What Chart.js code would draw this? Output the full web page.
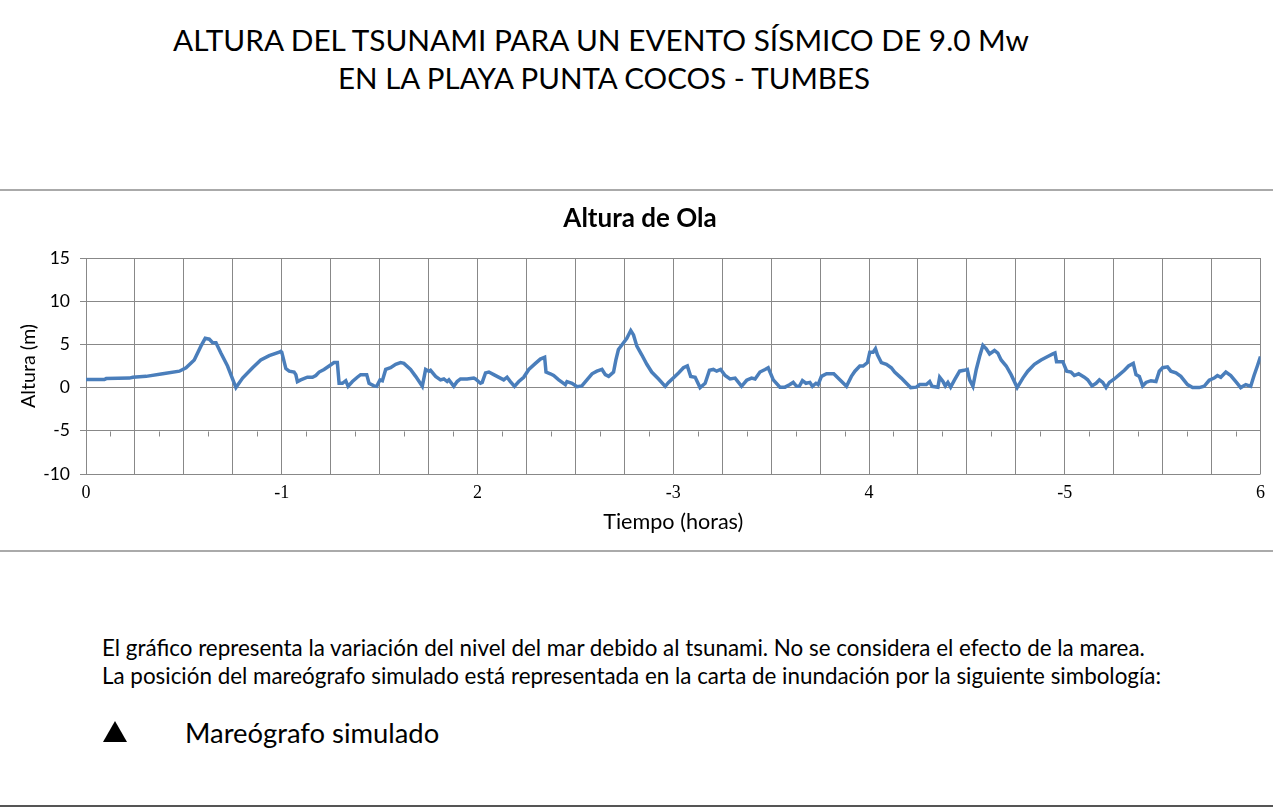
<!DOCTYPE html>
<html>
<head>
<meta charset="utf-8">
<script src="https://cdn.jsdelivr.net/npm/chart.js@4"></script>
<style>
  body { margin: 0; width: 1273px; height: 809px; background: #fff; position: relative; overflow: hidden; font-family: Lato, "Open Sans", sans-serif; color: #000; }
  .txt { position: absolute; white-space: nowrap; line-height: 1; }
  .regla { position: absolute; left: 0; width: 1273px; }
  #caja { position: absolute; left: 0; top: 195px; width: 1273px; height: 350px; }
  .triangulo { position: absolute; left: 103px; top: 721px; width: 0; height: 0; border-left: 12px solid transparent; border-right: 12px solid transparent; border-bottom: 21px solid #000; }
</style>
</head>
<body>
<div class="txt" style="left:0;width:1202px;text-align:center;top:25px;font-size:29.8px;">ALTURA DEL TSUNAMI PARA UN EVENTO SÍSMICO DE 9.0 Mw</div>
<div class="txt" style="left:0;width:1208px;text-align:center;top:63px;font-size:29.5px;">EN LA PLAYA PUNTA COCOS - TUMBES</div>
<div class="regla" style="top:189px;height:2px;background:#aaa;"></div>

<div id="caja"><canvas id="grafico" width="1273" height="350"></canvas></div>

<div class="regla" style="top:550px;height:2px;background:#aaa;"></div>
<div class="txt" style="left:102px;top:637px;font-size:22.4px;">El gráfico representa la variación del nivel del mar debido al tsunami. No se considera el efecto de la marea.</div>
<div class="txt" style="left:102px;top:665px;font-size:22.4px;">La posición del mareógrafo simulado está representada en la carta de inundación por la siguiente simbología:</div>
<div class="triangulo"></div>
<div class="txt" style="left:185px;top:719px;font-size:27.4px;">Mareógrafo simulado</div>
<div class="regla" style="top:805px;height:2px;background:#555;"></div>

<script>
// tiempo en horas, altura en metros
const tiempo = [
  0.000, 0.094, 0.103, 0.222, 0.239, 0.307, 0.392, 0.477, 0.511, 0.553, 0.587, 0.609, 0.630, 0.647, 0.664, 0.689, 0.723, 0.766, 0.800, 0.851, 0.893, 0.936, 0.987,
  0.995, 1.000, 1.021, 1.038, 1.063, 1.072, 1.080, 1.097, 1.131, 1.157, 1.174, 1.191, 1.216, 1.242, 1.267, 1.284, 1.293, 1.310, 1.327, 1.339, 1.361, 1.386, 1.403,
  1.434, 1.446, 1.471, 1.485, 1.502, 1.514, 1.531, 1.556, 1.582, 1.607, 1.624, 1.658, 1.684, 1.718, 1.735, 1.752, 1.760, 1.786, 1.811, 1.828, 1.845, 1.854, 1.879,
  1.896, 1.913, 1.947, 1.981,
  1.990, 2.015, 2.024, 2.041, 2.058, 2.083, 2.117, 2.134, 2.151, 2.168, 2.189, 2.211, 2.236, 2.262, 2.296, 2.321, 2.343, 2.350, 2.372, 2.389, 2.415, 2.449, 2.457,
  2.483, 2.508, 2.533, 2.559, 2.585, 2.610, 2.636, 2.653, 2.670, 2.695, 2.707, 2.720, 2.746, 2.763, 2.783, 2.797, 2.814, 2.839, 2.865, 2.890, 2.925, 2.959, 2.976,
  3.027, 3.052, 3.072, 3.089, 3.112, 3.137, 3.163, 3.185, 3.205, 3.222, 3.242, 3.265, 3.290, 3.316, 3.349, 3.375, 3.400, 3.418, 3.443, 3.469, 3.485, 3.511, 3.545,
  3.571, 3.596, 3.613, 3.630, 3.644, 3.660, 3.678, 3.698, 3.711, 3.729, 3.740, 3.757, 3.783, 3.820, 3.851, 3.885, 3.910, 3.928, 3.953, 3.970,
  3.992, 4.004, 4.021, 4.033, 4.043, 4.063, 4.089, 4.114, 4.131, 4.165, 4.191, 4.213, 4.242, 4.259, 4.293, 4.310, 4.322, 4.352, 4.361, 4.378, 4.390, 4.403, 4.417,
  4.437, 4.463, 4.485, 4.502, 4.514, 4.531, 4.548, 4.565, 4.582, 4.599, 4.616, 4.641, 4.658, 4.675, 4.701, 4.726, 4.757, 4.786, 4.811, 4.845, 4.879, 4.913, 4.939,
  4.950, 4.958,
  4.990, 5.010, 5.032, 5.049, 5.071, 5.100, 5.117, 5.139, 5.160, 5.177, 5.194, 5.211, 5.228, 5.253, 5.279, 5.305, 5.326, 5.350, 5.364, 5.381, 5.398, 5.415, 5.440,
  5.466, 5.483, 5.500, 5.525, 5.542, 5.568, 5.593, 5.627, 5.653, 5.687, 5.712, 5.738, 5.763, 5.780, 5.797, 5.823, 5.848, 5.874, 5.899, 5.925, 5.950, 5.967, 5.984, 6.000
];
const altura = [
  0.93, 0.93, 1.04, 1.10, 1.20, 1.30, 1.60, 1.90, 2.30, 3.20, 4.80, 5.70, 5.60, 5.20, 5.20, 4.00, 2.50, 0.00, 1.10, 2.30, 3.20, 3.70, 4.10,
  4.20, 4.10, 2.20, 1.90, 1.80, 1.50, 0.70, 0.90, 1.20, 1.20, 1.40, 1.80, 2.10, 2.50, 2.90, 2.90, 0.50, 0.50, 0.80, 0.15, 0.70, 1.20, 1.50,
  1.50, 0.50, 0.20, 0.15, 0.90, 0.80, 2.10, 2.30, 2.70, 2.90, 2.80, 2.10, 1.30, 0.15, 2.10, 1.90, 2.00, 1.30, 0.90, 1.00, 0.70, 0.90, 0.15,
  0.70, 1.00, 1.00, 1.10,
  1.00, 0.50, 0.60, 1.70, 1.80, 1.50, 1.10, 0.90, 1.20, 0.70, 0.15, 0.70, 1.20, 2.10, 2.80, 3.30, 3.50, 1.80, 1.60, 1.40, 0.90, 0.35, 0.70,
  0.50, 0.10, 0.20, 0.90, 1.60, 1.90, 2.10, 1.50, 1.30, 1.80, 3.20, 4.40, 5.20, 5.70, 6.60, 6.10, 4.80, 3.80, 2.70, 1.80, 1.00, 0.15, 0.60,
  1.70, 2.30, 2.50, 1.30, 1.20, 0.00, 0.50, 2.00, 2.10, 1.90, 2.10, 1.40, 1.00, 1.10, 0.15, 0.85, 1.10, 1.00, 1.80, 2.10, 2.30, 0.90, 0.05,
  0.05, 0.35, 0.60, 0.15, 0.15, 0.80, 0.50, 0.60, 0.15, 0.50, 0.35, 1.30, 1.60, 1.60, 0.90, 0.15, 1.30, 1.90, 2.50, 2.50,
  2.90, 4.10, 4.10, 4.50, 3.80, 2.90, 2.70, 2.30, 1.80, 1.10, 0.50, 0.00, 0.05, 0.35, 0.35, 0.70, 0.15, 0.05, 1.20, 0.70, 0.20, 0.60, 0.05,
  0.90, 1.90, 2.00, 2.10, 0.90, 0.15, 2.10, 3.60, 4.90, 4.50, 3.90, 4.30, 4.00, 3.20, 2.50, 1.50, 0.00, 1.10, 1.90, 2.70, 3.20, 3.60, 3.90,
  4.00, 3.00,
  3.00, 1.90, 1.80, 1.40, 1.60, 1.20, 0.90, 0.20, 0.50, 0.90, 0.60, 0.00, 0.60, 1.00, 1.50, 2.00, 2.50, 2.80, 1.50, 1.30, 0.20, 0.60, 0.80,
  0.70, 1.90, 2.30, 2.40, 1.90, 1.70, 1.30, 0.35, 0.00, 0.00, 0.15, 0.85, 1.10, 1.40, 1.20, 1.80, 1.40, 0.70, 0.00, 0.35, 0.15, 1.40, 2.50, 3.60
];
// etiquetas del eje X tal como aparecen en el original
const etiquetasX = ["0", "-1", "2", "-3", "4", "-5", "6"];
const marcasMedias = [0.125, 0.375, 0.625, 0.875, 1.125, 1.375, 1.625, 1.875, 2.125, 2.375, 2.625, 2.875,
  3.125, 3.375, 3.625, 3.875, 4.125, 4.375, 4.625, 4.875, 5.125, 5.375, 5.625, 5.875];

// pequeñas marcas bajo la linea de -5
const marcasEje = {
  id: "marcasEje",
  beforeDatasetsDraw(chart) {
    const { ctx, scales: { x, y } } = chart;
    const y0 = Math.round(y.getPixelForValue(-5)) + 0.5;
    ctx.save();
    ctx.strokeStyle = "#888";
    ctx.lineWidth = 1;
    marcasMedias.forEach(t => {
      const px = Math.round(x.getPixelForValue(t)) + 0.5;
      ctx.beginPath();
      ctx.moveTo(px, y0);
      ctx.lineTo(px, y0 + 5);
      ctx.stroke();
    });
    ctx.restore();
  }
};

new Chart(document.getElementById("grafico"), {
  type: "line",
  data: {
    datasets: [{
      data: tiempo.map((t, i) => ({ x: t, y: altura[i] })),
      borderColor: "#4a7ebb",
      borderWidth: 3.5,
      pointRadius: 0,
      tension: 0,
      fill: false
    }]
  },
  options: {
    responsive: false,
    animation: false,
    layout: { padding: { left: 17, right: 10, top: 0, bottom: 0 } },
    plugins: {
      legend: { display: false },
      tooltip: { enabled: false },
      title: {
        display: true,
        text: "Altura de Ola",
        color: "#000",
        font: { family: "Lato", size: 26, weight: "bold" },
        padding: { top: 8, bottom: 23.8 }
      }
    },
    scales: {
      x: {
        type: "linear",
        min: 0,
        max: 6,
        ticks: {
          stepSize: 0.25,
          autoSkip: false,
          maxRotation: 0,
          padding: 8,
          color: "#000",
          font: { family: "Liberation Serif", size: 18 },
          callback: v => Number.isInteger(v) ? etiquetasX[v] : ""
        },
        grid: { color: "#888", drawTicks: false },
        border: { display: false },
        title: {
          display: true,
          text: "Tiempo (horas)",
          color: "#000",
          font: { family: "Lato", size: 21.6 },
          padding: { top: 0, bottom: 10 }
        },
        afterFit: s => { s.height = 71; }
      },
      y: {
        min: -10,
        max: 15,
        ticks: {
          stepSize: 5,
          padding: 10,
          color: "#000",
          font: { family: "Lato", size: 17.5 }
        },
        grid: { color: "#888", tickLength: 6 },
        border: { display: false },
        title: {
          display: true,
          text: "Altura (m)",
          color: "#000",
          font: { family: "Lato", size: 19.7 },
          padding: { top: 0, bottom: 0 }
        },
        afterFit: s => { s.width = 69; }
      }
    }
  },
  plugins: [marcasEje]
});
</script>
</body>
</html>
